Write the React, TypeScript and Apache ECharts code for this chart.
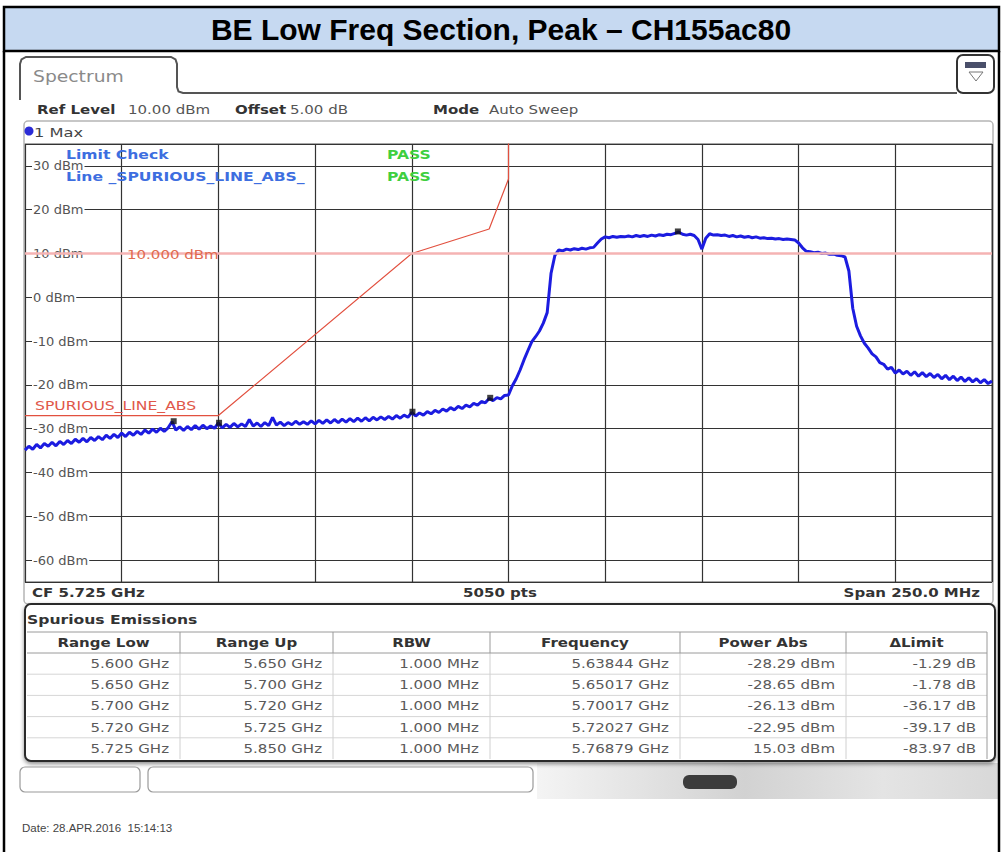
import React, { useEffect, useRef } from "react";
import * as echarts from "echarts";

const TITLE = "BE Low Freq Section, Peak – CH155ac80";

// Trace (max hold), 1 MHz steps from 5600 MHz to 5850 MHz, dBm
const TRACE_START_MHZ = 5600;
const TRACE_STEP_MHZ = 1;
const TRACE_DBM = [
  -34.9, -34.0, -34.7, -33.6, -34.4, -33.4, -34.0, -33.1, -33.9, -32.9,
  -33.6, -32.7, -33.4, -32.4, -33.1, -32.2, -33.0, -32.0, -32.7, -31.8,
  -32.5, -31.5, -32.2, -31.3, -32.0, -31.0, -31.8, -30.8, -31.5, -30.6,
  -31.3, -30.3, -31.0, -30.1, -30.8, -29.9, -30.6, -29.8, -28.4, -30.3,
  -29.6, -30.4, -29.5, -30.2, -29.3, -30.1, -29.2, -30.0, -29.4, -29.9,
  -28.7, -29.8, -29.0, -29.7, -28.8, -29.6, -28.9, -29.5, -27.9, -29.4,
  -28.7, -29.5, -28.6, -29.3, -27.4, -29.2, -28.5, -29.3, -28.6, -29.1,
  -28.3, -29.0, -28.4, -29.0, -28.2, -28.9, -28.1, -28.8, -28.0, -28.7,
  -27.9, -28.6, -27.8, -28.5, -27.7, -28.4, -27.6, -28.3, -27.5, -28.2,
  -27.4, -28.0, -27.3, -27.9, -27.2, -27.8, -27.0, -27.6, -26.9, -27.4,
  -26.3, -27.1, -26.4, -26.9, -26.1, -26.6, -25.8, -26.3, -25.5, -26.0,
  -25.2, -25.7, -24.9, -25.4, -24.6, -25.0, -24.2, -24.6, -23.8, -24.1,
  -23.1, -23.6, -22.9, -23.2, -22.4, -22.3, -20.2, -18.6, -16.6, -14.3,
  -12.2, -10.2, -9.0, -7.7, -5.9, -3.5, 5.5, 9.6, 10.8, 10.6,
  11.0, 10.8, 11.1, 10.9, 11.2, 11.0, 11.3, 11.4, 12.4, 13.3,
  13.8, 13.6, 13.9, 13.7, 13.9, 13.8, 14.0, 13.8, 14.1, 13.9,
  14.1, 13.9, 14.2, 14.0, 14.3, 14.1, 14.4, 14.3, 14.6, 14.9,
  14.4, 14.2, 14.4, 14.1, 13.2, 11.0, 13.5, 14.5, 14.2, 14.3,
  14.1, 14.2, 13.9, 14.1, 13.8, 14.0, 13.7, 13.9, 13.6, 13.8,
  13.5, 13.6, 13.4, 13.5, 13.3, 13.4, 13.2, 13.3, 13.2, 13.1,
  12.4, 11.3, 10.5, 10.4, 10.2, 10.3, 10.0, 10.1, 9.8, 9.9,
  9.6, 9.5, 9.2, 6.0, -2.5, -6.6, -8.8, -10.5, -11.6, -12.9,
  -13.6, -14.9, -15.3, -16.4, -16.0, -17.3, -16.6, -17.5, -16.9, -17.8,
  -17.0, -18.0, -17.2, -18.1, -17.4, -18.3, -17.6, -18.6, -17.8, -18.8,
  -18.0, -19.0, -18.2, -19.2, -18.4, -19.3, -18.6, -19.5, -18.8, -19.7,
  -19.1,
];

// Limit line SPURIOUS_LINE_ABS
const LIMIT_FREQ_MHZ = [5600, 5650, 5700, 5720, 5725, 5725];
const LIMIT_DBM = [-27, -27, 10, 15.6, 27, 40];
const DISPLAY_LINE_DBM = 10;

// Axis ranges
const X_MIN_MHZ = 5600;
const X_MAX_MHZ = 5850;
const X_DIV_MHZ = 25;
const Y_MIN = -65;
const Y_MAX = 35;

// Spurious emissions table / markers
const RANGE_LOW_GHZ = [5.6, 5.65, 5.7, 5.72, 5.725];
const RANGE_UP_GHZ = [5.65, 5.7, 5.72, 5.725, 5.85];
const RBW_MHZ = [1, 1, 1, 1, 1];
const MARKER_FREQ_MHZ = [5638.44, 5650.17, 5700.17, 5720.27, 5768.79];
const MARKER_DBM = [-28.29, -28.65, -26.13, -22.95, 15.03];
const DELTA_LIMIT_DB = [-1.29, -1.78, -36.17, -39.17, -83.97];
const TABLE_HEADERS = ["Range Low", "Range Up", "RBW", "Frequency", "Power Abs", "ΔLimit"];

const FONT = "DejaVu Sans";
const SX = 1.25;

function txt(text: string, x: number, y: number, o: any = {}) {
  const align = o.align || "left";
  return {
    type: "text",
    x,
    y,
    scaleX: o.sx ?? SX,
    z: o.z ?? 100,
    silent: true,
    style: {
      text,
      fill: o.color || "#333",
      fontSize: o.size || 12,
      fontWeight: o.bold ? "bold" : "normal",
      fontFamily: o.ff || FONT,
      align,
      textAlign: align,
      verticalAlign: "middle",
      textVerticalAlign: "middle",
    },
  };
}

function buildGraphics() {
  const els: any[] = [];
  // Title bar
  els.push({ type: "rect", z: 1, shape: { x: 4, y: 7, width: 995, height: 44 }, style: { fill: "#c6d9f1", stroke: "#000", lineWidth: 2.5 } });
  els.push(txt(TITLE, 501, 29, { sx: 1, size: 30, bold: true, ff: "Liberation Sans, Arial", color: "#000", align: "center" }));
  els.push({ type: "line", z: 1, shape: { x1: 4, y1: 51, x2: 4, y2: 852 }, style: { stroke: "#000", lineWidth: 2.5 } });
  els.push({ type: "line", z: 1, shape: { x1: 999, y1: 51, x2: 999, y2: 852 }, style: { stroke: "#000", lineWidth: 2.5 } });

  // Spectrum tab
  els.push({
    type: "polyline",
    z: 1,
    shape: { points: [[20, 100], [20, 64], [21.5, 59.5], [26, 57], [171, 57], [175.5, 59.5], [177, 64], [177, 87], [178.5, 91.5], [183, 93], [957, 93]] },
    style: { stroke: "#555", lineWidth: 2, fill: null },
  });
  els.push(txt("Spectrum", 33, 77, { size: 15, color: "#8a8a8a" }));
  // icon
  els.push({ type: "rect", z: 1, shape: { x: 957, y: 55, width: 37, height: 38, r: 6 }, style: { fill: "#fff", stroke: "#333", lineWidth: 2 } });
  els.push({ type: "rect", z: 2, shape: { x: 965, y: 62, width: 21, height: 6 }, style: { fill: "#4a4f6a" } });
  els.push({ type: "polygon", z: 2, shape: { points: [[969, 72], [983, 72], [976, 81]] }, style: { fill: "#fff", stroke: "#777", lineWidth: 1 } });

  // header
  els.push(txt("Ref Level", 37, 110, { bold: true }));
  els.push(txt("10.00 dBm", 128, 110, { color: "#555" }));
  els.push(txt("Offset", 235, 110, { bold: true }));
  els.push(txt("5.00 dB", 290, 110, { color: "#555" }));
  els.push(txt("Mode", 433, 110, { bold: true }));
  els.push(txt("Auto Sweep", 489, 110, { color: "#555" }));

  // 1 Max panel
  els.push({ type: "rect", z: 0, shape: { x: 24, y: 121, width: 969, height: 483, r: 4 }, style: { fill: null, stroke: "#b5b5b5", lineWidth: 1.5 } });
  els.push({ type: "circle", z: 2, shape: { cx: 29, cy: 131, r: 4.5 }, style: { fill: "#2b2bd6" } });
  els.push(txt("1 Max", 34, 132, { size: 13, color: "#444" }));

  // limit check
  els.push(txt("Limit Check", 66, 155, { bold: true, size: 12.5, color: "#3d6ee0" }));
  els.push(txt("Line _SPURIOUS_LINE_ABS_", 66, 177, { bold: true, size: 12.5, color: "#3d6ee0" }));
  els.push(txt("PASS", 387, 155, { bold: true, size: 12.5, color: "#3fcf3f" }));
  els.push(txt("PASS", 387, 177, { bold: true, size: 12.5, color: "#3fcf3f" }));
  els.push(txt("SPURIOUS_LINE_ABS", 35, 406, { size: 12.5, color: "#e0584a" }));
  els.push(txt(DISPLAY_LINE_DBM.toFixed(3) + " dBm", 127, 255, { size: 12, color: "#e06a50" }));

  // CF row
  const cf = (X_MIN_MHZ + X_MAX_MHZ) / 2 / 1000;
  const span = X_MAX_MHZ - X_MIN_MHZ;
  els.push(txt("CF " + cf.toFixed(3) + " GHz", 32, 593, { bold: true }));
  els.push(txt("5050 pts", 500, 593, { bold: true, align: "center" }));
  els.push(txt("Span " + span.toFixed(1) + " MHz", 980, 593, { bold: true, align: "right" }));

  // Table panel
  els.push({
    type: "rect",
    z: 1,
    shape: { x: 25, y: 604, width: 970, height: 157, r: 6 },
    style: { fill: "#fff", stroke: "#2a2a2a", lineWidth: 2, shadowBlur: 4, shadowColor: "rgba(0,0,0,0.45)", shadowOffsetY: 2 },
  });
  els.push(txt("Spurious Emissions", 27, 620, { bold: true, size: 12.5 }));
  const COLS = [27, 180, 333, 490, 680, 846, 987];
  const headTop = 632;
  const headBot = 653;
  const rowH = 21.2;
  const tableBot = 759;
  for (let k = 1; k <= 4; k++) {
    const y = headBot + rowH * k;
    els.push({ type: "line", z: 2, shape: { x1: 27, y1: y, x2: 987, y2: y }, style: { stroke: "#d6d6d6", lineWidth: 1 } });
  }
  for (let c = 1; c < COLS.length; c++) {
    els.push({ type: "line", z: 2, shape: { x1: COLS[c], y1: headBot, x2: COLS[c], y2: tableBot }, style: { stroke: c === COLS.length - 1 ? "#9a9a9a" : "#d0d0d0", lineWidth: 1 } });
    els.push({ type: "line", z: 2, shape: { x1: COLS[c], y1: headTop, x2: COLS[c], y2: headBot }, style: { stroke: "#9a9a9a", lineWidth: 1 } });
  }
  els.push({ type: "line", z: 2, shape: { x1: 27, y1: headTop, x2: 987, y2: headTop }, style: { stroke: "#9a9a9a", lineWidth: 1 } });
  els.push({ type: "line", z: 2, shape: { x1: 27, y1: headBot, x2: 987, y2: headBot }, style: { stroke: "#9a9a9a", lineWidth: 1 } });
  TABLE_HEADERS.forEach((h, c) => {
    els.push(txt(h, (COLS[c] + COLS[c + 1]) / 2, 643, { bold: true, size: 12, align: "center", color: "#333" }));
  });
  const rows = RANGE_LOW_GHZ.map((lo, i) => [
    lo.toFixed(3) + " GHz",
    RANGE_UP_GHZ[i].toFixed(3) + " GHz",
    RBW_MHZ[i].toFixed(3) + " MHz",
    (MARKER_FREQ_MHZ[i] / 1000).toFixed(5) + " GHz",
    MARKER_DBM[i].toFixed(2) + " dBm",
    DELTA_LIMIT_DB[i].toFixed(2) + " dB",
  ]);
  rows.forEach((row, r) => {
    const y = headBot + rowH * r + rowH / 2;
    row.forEach((cell, c) => {
      els.push(txt(cell, COLS[c + 1] - 11, y, { size: 12, align: "right", color: "#5a5a5a" }));
    });
  });

  // bottom controls
  els.push({
    type: "rect",
    z: 0,
    shape: { x: 537, y: 763, width: 461, height: 36 },
    style: {
      fill: new echarts.graphic.LinearGradient(0, 0, 1, 0, [
        { offset: 0, color: "#f4f4f4" },
        { offset: 0.45, color: "#d2d2d2" },
        { offset: 0.75, color: "#e4e4e4" },
        { offset: 1, color: "#d8d8d8" },
      ]),
    },
  });
  els.push({ type: "rect", z: 1, shape: { x: 20, y: 767, width: 120, height: 25, r: 5 }, style: { fill: "#fff", stroke: "#9a9a9a", lineWidth: 1.2 } });
  els.push({ type: "rect", z: 1, shape: { x: 148, y: 767, width: 385, height: 25, r: 5 }, style: { fill: "#fff", stroke: "#9a9a9a", lineWidth: 1.2 } });
  els.push({ type: "rect", z: 1, shape: { x: 683, y: 775, width: 54, height: 14, r: 6 }, style: { fill: "#3c3c3c" } });
  els.push(txt("Date: 28.APR.2016  15:14:13", 22, 828, { sx: 1, size: 11.5, ff: "Liberation Sans", color: "#444" }));
  return els;
}

export default function App() {
  const ref = useRef<HTMLDivElement>(null);
  useEffect(() => {
    if (!ref.current) return;
    const chart = echarts.init(ref.current, undefined, { renderer: "svg" });
    const traceData = TRACE_DBM.map((v, i) => [TRACE_START_MHZ + i * TRACE_STEP_MHZ, v]);
    const limitData = LIMIT_FREQ_MHZ.map((f, i) => [f, LIMIT_DBM[i]]);
    const markerData = MARKER_FREQ_MHZ.map((f, i) => [f, MARKER_DBM[i]]);
    chart.setOption({
      animation: false,
      backgroundColor: "#fff",
      grid: { left: 25, top: 144, width: 967, height: 438, show: true, borderColor: "#8a8a8a", borderWidth: 1.5, backgroundColor: "#fff" },
      xAxis: {
        type: "value",
        min: X_MIN_MHZ,
        max: X_MAX_MHZ,
        interval: X_DIV_MHZ,
        axisLabel: { show: false },
        axisTick: { show: false },
        axisLine: { show: false },
        splitLine: { show: true, lineStyle: { color: "#333", width: 1.2 } },
      },
      yAxis: {
        type: "value",
        min: Y_MIN,
        max: Y_MAX,
        splitNumber: 10,
        axisLine: { show: false },
        axisTick: { show: false },
        axisLabel: {
          inside: true,
          margin: 7,
          showMinLabel: false,
          showMaxLabel: false,
          formatter: (v: number) => `${v} dBm`,
          color: "#555",
          fontSize: 13,
          fontFamily: FONT,
          backgroundColor: "#fff",
          padding: [0, 1],
        },
        splitLine: { show: true, lineStyle: { color: "#333", width: 1.2 } },
      },
      series: [
        {
          type: "line",
          data: [],
          z: 2,
          markLine: {
            silent: true,
            symbol: "none",
            label: { show: false },
            lineStyle: { color: "#f5b3b3", width: 2.5, type: "solid", opacity: 1 },
            data: [{ yAxis: DISPLAY_LINE_DBM }],
          },
        },
        {
          type: "line",
          data: limitData,
          showSymbol: false,
          z: 3,
          lineStyle: { color: "#e2503f", width: 1.2 },
        },
        {
          type: "line",
          data: traceData,
          showSymbol: false,
          z: 4,
          lineStyle: { color: "#1c1ce0", width: 3 },
        },
        {
          type: "scatter",
          data: markerData,
          symbol: "rect",
          symbolSize: 6,
          z: 5,
          itemStyle: { color: "#111" },
        },
      ],
      graphic: { elements: buildGraphics() },
    });
    return () => chart.dispose();
  }, []);
  return <div ref={ref} style={{ position: "fixed", left: 0, top: 0, width: 1002, height: 852, background: "#fff" }} />;
}
